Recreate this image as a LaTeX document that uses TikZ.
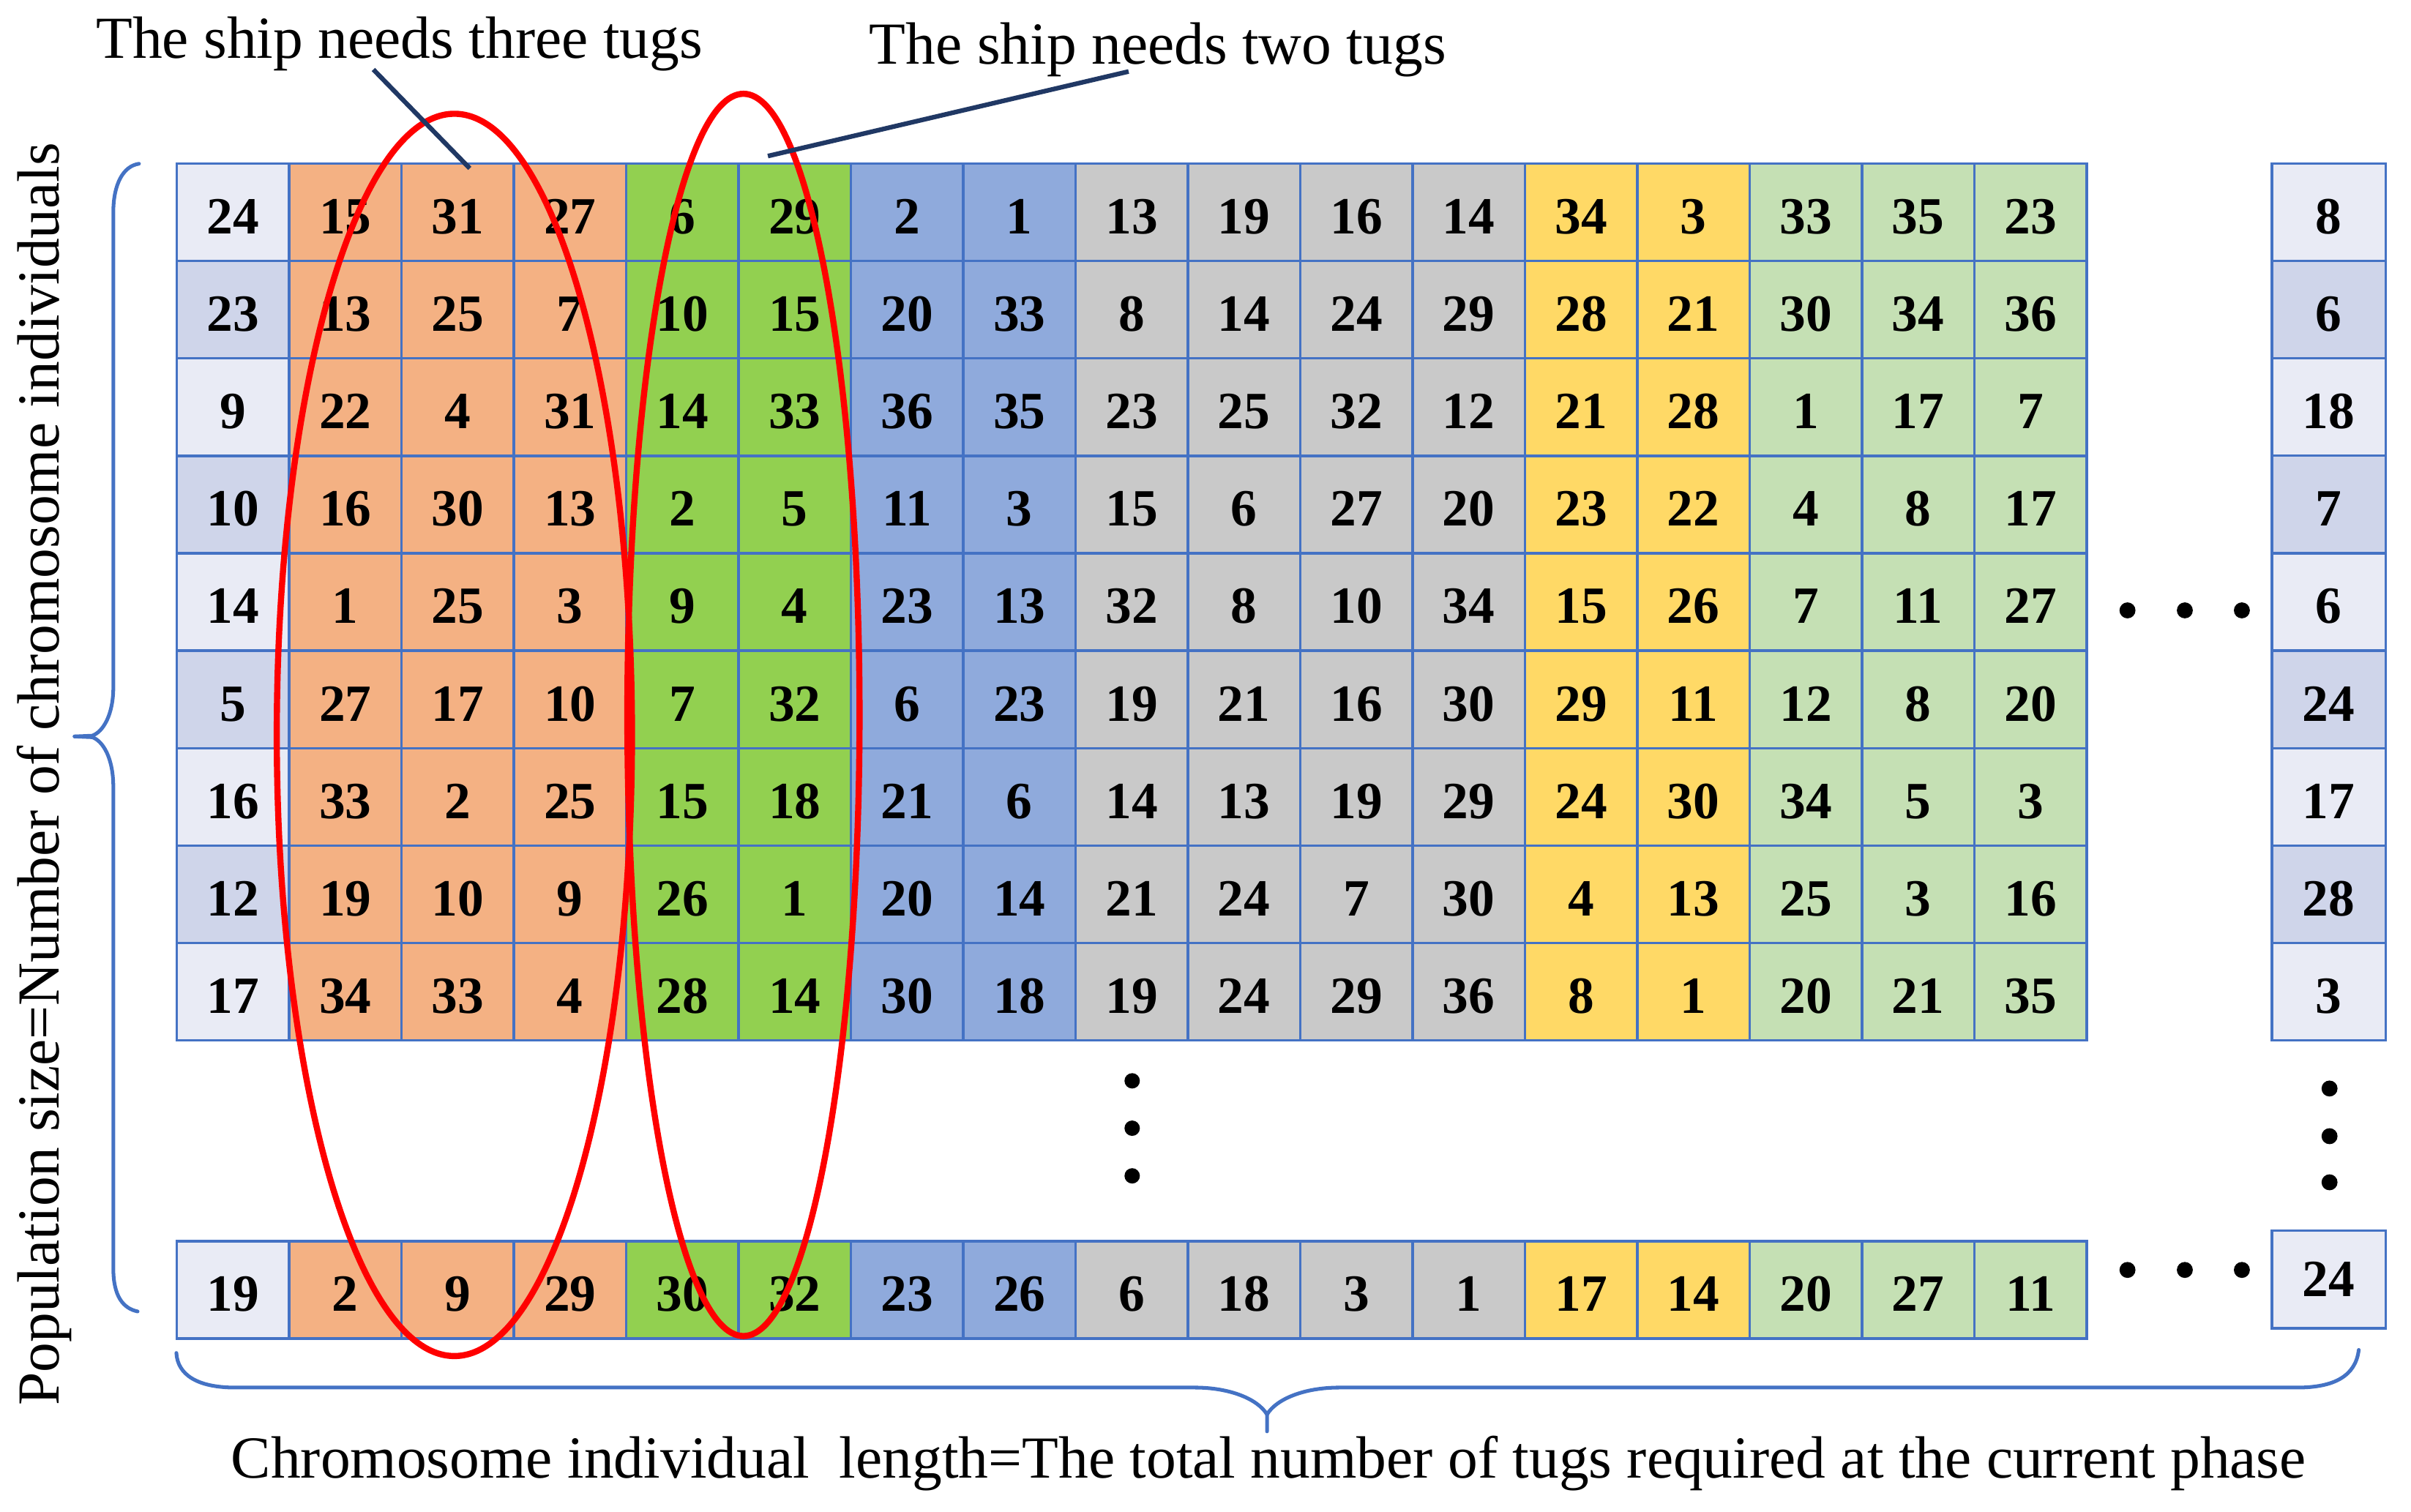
\documentclass[tikz,border=0pt]{standalone}
\usepackage{fontspec}
\setmainfont{Liberation Serif}
\definecolor{gridline}{HTML}{4472C4}
\definecolor{fa}{HTML}{E9EBF5}
\definecolor{fb}{HTML}{CFD5EA}
\definecolor{corange}{HTML}{F4B183}
\definecolor{cgreen}{HTML}{92D050}
\definecolor{cblue}{HTML}{8FAADC}
\definecolor{cgray}{HTML}{C9C9C9}
\definecolor{cyellow}{HTML}{FFD966}
\definecolor{clgreen}{HTML}{C5E0B4}
\definecolor{navy}{HTML}{203864}
\definecolor{ringred}{HTML}{FF0000}
\colorlet{k2}{corange}\colorlet{k3}{corange}\colorlet{k4}{corange}
\colorlet{k5}{cgreen}\colorlet{k6}{cgreen}
\colorlet{k7}{cblue}\colorlet{k8}{cblue}
\colorlet{k9}{cgray}\colorlet{k10}{cgray}\colorlet{k11}{cgray}\colorlet{k12}{cgray}
\colorlet{k13}{cyellow}\colorlet{k14}{cyellow}
\colorlet{k15}{clgreen}\colorlet{k16}{clgreen}\colorlet{k17}{clgreen}
\newcommand\lowdigits[1]{\raisebox{0pt}[28pt][0pt]{#1}}
\newcommand\mkrow[4]{%
  \foreach \v [count=\c] in {#3} {%
    \ifnum\c=1 \edef\fc{#4}\else\edef\fc{k\c}\fi
    \node[cellbox, fill=\fc] (c#1-\c) at ({115+(\c-0.5)*73.06}, #2) {\lowdigits{\v}};
  }%
}
\begin{document}
\begin{tikzpicture}[x=1pt,y=-1pt,
  cellbox/.style={draw=gridline, line width=1.6pt, minimum width=73.06pt,
    minimum height=63.38pt, inner sep=0pt, outer sep=0pt,
    font=\fontsize{34}{40}\selectfont\bfseries},
  sidebox/.style={cellbox, minimum width=73.9pt},
  lbl/.style={font=\fontsize{38.8}{46}\selectfont, inner sep=0pt, anchor=base},
  bracepath/.style={draw=gridline, line width=2.4pt, line cap=round, line join=miter},
  ring/.style={draw=ringred, line width=4pt},
  pointer/.style={draw=navy, line width=3pt},
  dotmark/.style={fill=black}]
\fill[white] (0,0) rectangle (1568,983);
\useasboundingbox (0,0) rectangle (1568,983);

% main grid rows
\mkrow{1}{138.0}{24,15,31,27,6,29,2,1,13,19,16,14,34,3,33,35,23}{fa}
\mkrow{2}{201.4}{23,13,25,7,10,15,20,33,8,14,24,29,28,21,30,34,36}{fb}
\mkrow{3}{264.8}{9,22,4,31,14,33,36,35,23,25,32,12,21,28,1,17,7}{fa}
\mkrow{4}{328.2}{10,16,30,13,2,5,11,3,15,6,27,20,23,22,4,8,17}{fb}
\mkrow{5}{391.5}{14,1,25,3,9,4,23,13,32,8,10,34,15,26,7,11,27}{fa}
\mkrow{6}{454.9}{5,27,17,10,7,32,6,23,19,21,16,30,29,11,12,8,20}{fb}
\mkrow{7}{518.3}{16,33,2,25,15,18,21,6,14,13,19,29,24,30,34,5,3}{fa}
\mkrow{8}{581.7}{12,19,10,9,26,1,20,14,21,24,7,30,4,13,25,3,16}{fb}
\mkrow{9}{645.1}{17,34,33,4,28,14,30,18,19,24,29,36,8,1,20,21,35}{fa}
\mkrow{b}{839.0}{19,2,9,29,30,32,23,26,6,18,3,1,17,14,20,27,11}{fa}

% right column
\foreach \v/\f [count=\r] in {8/fa,6/fb,18/fa,7/fb,6/fa,24/fb,17/fa,28/fb,3/fa} {
  \node[sidebox, fill=\f] (rc\r) at (1514.5, {106.3+(\r-0.5)*63.38}) {\lowdigits{\v}};
}
\node[sidebox, fill=fa] (rcb) at (1514.5, 832.2) {24};

% ellipsis dots
\foreach \x in {1383.6,1420.9,1458} {
  \fill[dotmark] (\x,397) circle (5.2);
  \fill[dotmark] (\x,826) circle (5.2);
}
\foreach \y in {703,733.8,764.8} { \fill[dotmark] (736.3,\y) circle (5); }
\foreach \y in {708,739,769} { \fill[dotmark] (1515,\y) circle (5.2); }

% left brace
\draw[bracepath] (90.4,106.5) .. controls (80,108) and (73.7,120) .. (73.7,138)
  -- (73.7,447) .. controls (73.7,465) and (67,476) .. (60,478.5) -- (48.5,479);
\draw[bracepath] (48.5,479) -- (60,479.5) .. controls (67,482) and (73.7,493) .. (73.7,512)
  -- (73.7,825) .. controls (73.7,843) and (80,851) .. (89.5,853);

% bottom brace
\draw[bracepath] (114.7,880) .. controls (115.5,894) and (128,902.5) .. (153,902.5)
  -- (777,902.5) .. controls (800,902.5) and (818,910) .. (824,920) -- (824,931);
\draw[bracepath] (824,920) .. controls (830,910) and (848,902.5) .. (871,902.5)
  -- (1494,902.5) .. controls (1518,902.5) and (1532,895) .. (1534,878);

% labels
\node[lbl] (tThree) at (259.7,37.8) {The ship needs three tugs};
\node[lbl] (tTwo) at (753,41.6) {The ship needs two tugs};
\node[lbl] (tBottom) at (825,961.5) {Chromosome individual\ \ length=The total number of tugs required at the current phase};
\node[lbl, rotate=90] (tLeft) at (38.5,503.5) {Population size=Number of chromosome individuals};

% red ellipses
\draw[ring] (295.5,478) ellipse [x radius=115.5, y radius=404];
\draw[ring] (483.5,465) ellipse [x radius=75.5, y radius=404];

% pointer lines
\coordinate (a3) at (242.8,45.2);
\coordinate (b3) at (305.5,109.5);
\coordinate (a2) at (734,46.5);
\coordinate (b2) at (499.4,101.5);
\draw[pointer] (a3) -- (b3);
\draw[pointer] (a2) -- (b2);
\end{tikzpicture}
\end{document}
